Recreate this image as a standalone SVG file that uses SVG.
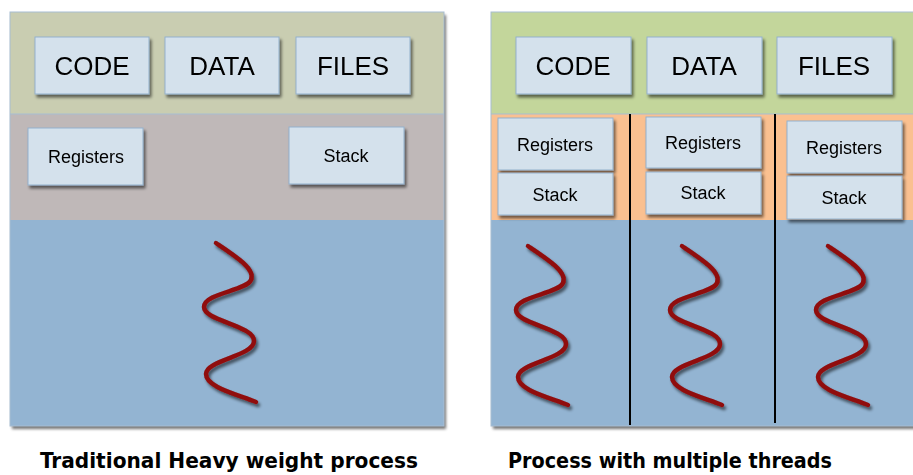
<svg xmlns="http://www.w3.org/2000/svg" xmlns:xlink="http://www.w3.org/1999/xlink" width="913" height="475" viewBox="0 0 913 475">
<defs>
<filter id="sh" x="-20%" y="-20%" width="150%" height="150%">
<feGaussianBlur in="SourceAlpha" stdDeviation="1.5"/>
<feOffset dx="1.5" dy="2.5" result="b"/>
<feComponentTransfer><feFuncA type="linear" slope="0.55"/></feComponentTransfer>
<feMerge><feMergeNode/><feMergeNode in="SourceGraphic"/></feMerge>
</filter>
<path id="wave" d="M0,0 C18,12 40,26 35,37 C30,48 -12,50 -12,64 C-12,78 38,82 38,98 C38,113 -10,117 -10,131 C-10,144 20,151 40,159"/>
</defs>
<style>
.box{fill:#d4e1ec;stroke:#93b1cd;stroke-width:1}
.big{font-family:"Liberation Sans",Arial,sans-serif;font-size:26px;fill:#000;text-anchor:middle}
.sm{font-family:"Liberation Sans",Arial,sans-serif;font-size:18px;fill:#000;text-anchor:middle}
.title{font-family:"DejaVu Sans Condensed","DejaVu Sans",sans-serif;font-weight:bold;font-size:20.5px;fill:#000}
.wv{fill:none;stroke:#900a0a;stroke-width:4.5;stroke-linecap:round}
.div{stroke:#000;stroke-width:2}
</style>
<rect width="913" height="475" fill="#fff"/>
<g id="left-panel">
<g filter="url(#sh)">
<rect x="10" y="12" width="434" height="414" fill="#93b4d2"/>
</g>
<rect x="10" y="12" width="434" height="102" fill="#c9cdb1"/>
<rect x="10" y="114" width="434" height="106" fill="#bfb8b8"/>
<rect x="10" y="12" width="434" height="414" fill="none" stroke="#a7bdd2" stroke-width="1"/>
<line x1="10" y1="114" x2="444" y2="114" stroke="#a7bdd2" stroke-width="1"/>
</g>
<g id="right-panel">
<g filter="url(#sh)">
<rect x="491" y="12" width="430" height="414" fill="#93b4d2"/>
</g>
<rect x="491" y="12" width="430" height="102" fill="#c3d69b"/>
<rect x="491" y="114" width="430" height="106" fill="#fac090"/>
<rect x="491" y="12" width="430" height="414" fill="none" stroke="#a7bdd2" stroke-width="1"/>
<line x1="491" y1="114" x2="913" y2="114" stroke="#a7bdd2" stroke-width="1"/>
</g>
<g id="connectors">
<line class="div" x1="630" y1="114" x2="630" y2="425"/>
<line class="div" x1="775" y1="114" x2="775" y2="423"/>
</g>
<g id="l-code" filter="url(#sh)"><rect class="box" x="35" y="37" width="114" height="57"/><text class="big" x="92" y="75">CODE</text></g>
<g id="l-data" filter="url(#sh)"><rect class="box" x="165" y="37" width="114" height="57"/><text class="big" x="222" y="75">DATA</text></g>
<g id="l-files" filter="url(#sh)"><rect class="box" x="296" y="37" width="114" height="57"/><text class="big" x="353" y="75">FILES</text></g>
<g id="l-registers" filter="url(#sh)"><rect class="box" x="28" y="128" width="115" height="57"/><text class="sm" x="86" y="163">Registers</text></g>
<g id="l-stack" filter="url(#sh)"><rect class="box" x="289" y="127" width="115" height="57"/><text class="sm" x="346" y="162">Stack</text></g>
<g id="r-code" filter="url(#sh)"><rect class="box" x="516" y="37" width="115" height="57"/><text class="big" x="573" y="75">CODE</text></g>
<g id="r-data" filter="url(#sh)"><rect class="box" x="647" y="37" width="115" height="57"/><text class="big" x="704" y="75">DATA</text></g>
<g id="r-files" filter="url(#sh)"><rect class="box" x="777" y="37" width="115" height="57"/><text class="big" x="834" y="75">FILES</text></g>
<g id="t1-registers" filter="url(#sh)"><rect class="box" x="498" y="118" width="115" height="52"/><text class="sm" x="555" y="151">Registers</text></g>
<g id="t1-stack" filter="url(#sh)"><rect class="box" x="498" y="173" width="115" height="42"/><text class="sm" x="555" y="201">Stack</text></g>
<g id="t2-registers" filter="url(#sh)"><rect class="box" x="646" y="117" width="115" height="51"/><text class="sm" x="703" y="149">Registers</text></g>
<g id="t2-stack" filter="url(#sh)"><rect class="box" x="646" y="172" width="115" height="42"/><text class="sm" x="703" y="199">Stack</text></g>
<g id="t3-registers" filter="url(#sh)"><rect class="box" x="787" y="121" width="115" height="52"/><text class="sm" x="844" y="154">Registers</text></g>
<g id="t3-stack" filter="url(#sh)"><rect class="box" x="787" y="176" width="115" height="43"/><text class="sm" x="844" y="204">Stack</text></g>
<g id="threads" filter="url(#sh)">
<use xlink:href="#wave" class="wv" transform="translate(216,243)"/>
<use xlink:href="#wave" class="wv" transform="translate(528,246)"/>
<use xlink:href="#wave" class="wv" transform="translate(682,246)"/>
<use xlink:href="#wave" class="wv" transform="translate(828,246)"/>
</g>
<g id="titles">
<text class="title" x="40" y="468" textLength="378" lengthAdjust="spacingAndGlyphs">Traditional Heavy weight process</text>
<text class="title" x="508" y="468" textLength="324" lengthAdjust="spacingAndGlyphs">Process with multiple threads</text>
</g>
</svg>
